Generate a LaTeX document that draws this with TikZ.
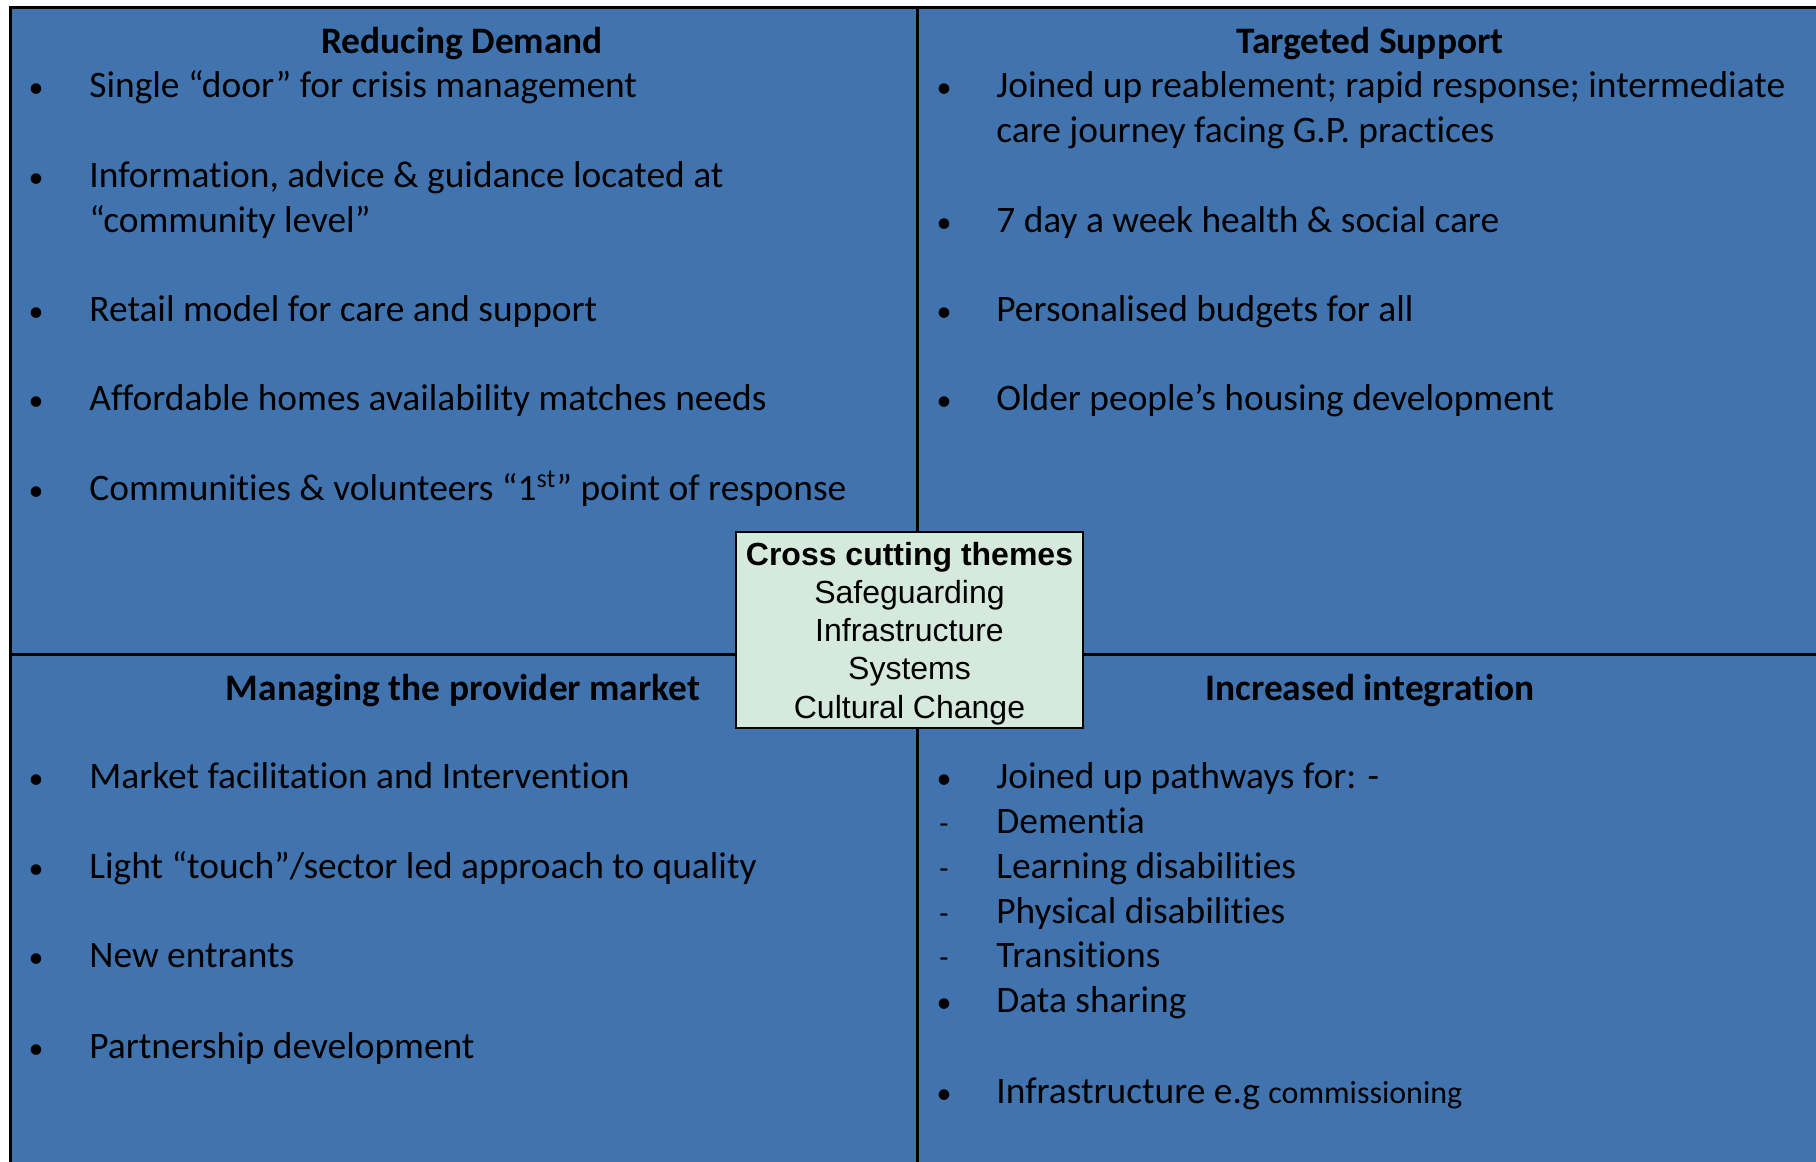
\documentclass[tikz,border=0pt]{standalone}
\usepackage{fontspec}
\setmainfont{Carlito}[Ligatures=NoCommon]
\newfontfamily\arialfont{Liberation Sans}
\definecolor{quadblue}{RGB}{65,116,175}
\definecolor{themegreen}{RGB}{214,233,221}
\tikzset{heading/.style={font=\bfseries\fontsize{18.7}{22}\selectfont, anchor=base, inner sep=0pt, yshift=-0.6pt}}
\tikzset{item/.style={font=\fontsize{18.7}{22}\selectfont, anchor=base west, inner sep=0pt, yshift=-0.6pt}}
\tikzset{bulletmark/.style={font=\fontsize{15}{18}\selectfont, anchor=base, inner sep=0pt, yshift=-0.6pt}}
\tikzset{themes/.style={draw, fill=themegreen, line width=0.6pt, minimum width=173.5pt, minimum height=98pt, inner sep=0pt}}
\tikzset{themetext/.style={align=center, inner sep=0pt, font=\arialfont\fontsize{16}{19.1}\selectfont}}
\tikzset{divider/.style={line width=1.5pt}}

\begin{document}
\begin{tikzpicture}[x=0.5pt, y=-0.5pt]
            \useasboundingbox (0,0) rectangle (1816,1162);
            \clip (0,0) rectangle (1816,1162);
            \fill[quadblue] (10,7) rectangle (1830,1180);
            \draw[divider] (10,1180) -- (10,7) -- (1830,7);
            \draw[divider] (917,7) -- (917,1180);
            \draw[divider] (10,654) -- (1830,654);
            % headings
            \node[heading] (demand) at (462,52) {Reducing Demand};
            \node[heading] (support) at (1370,52) {Targeted Support};
            \node[heading] (market) at (463,699) {Managing the provider market};
            \node[heading] (integration) at (1370,699) {Increased integration};
            % reducing demand
            \foreach \y/\m/\txt [count=\i] in {96.5/\textbullet/{Single “door” for crisis management},
                186/\textbullet/{Information, advice \& guidance located at},
                231//{“community level”},
                320/\textbullet/{Retail model for care and support},
                409/\textbullet/{Affordable homes availability matches needs},
                499/\textbullet/{Communities \& volunteers “1\textsuperscript{st}” point of response}} {
                \node[bulletmark] at (36,\y) {\m};
                \node[item] (demand-\i) at (89,\y) {\txt};
            }
            % targeted support
            \foreach \y/\m/\txt [count=\i] in {96.5/\textbullet/{Joined up reablement; rapid response; intermediate},
                141.7//{care journey facing G.P. practices},
                231/\textbullet/{7 day a week health \& social care},
                320/\textbullet/{Personalised budgets for all},
                409/\textbullet/{Older people’s housing development}} {
                \node[bulletmark] at (944,\y) {\m};
                \node[item] (support-\i) at (996,\y) {\txt};
            }
            % provider market
            \foreach \y/\m/\txt [count=\i] in {787/\textbullet/{Market facilitation and Intervention},
                877/\textbullet/{Light “touch”/sector led approach to quality},
                966/\textbullet/{New entrants},
                1057/\textbullet/{Partnership development}} {
                \node[bulletmark] at (36,\y) {\m};
                \node[item] (market-\i) at (89,\y) {\txt};
            }
            % integration
            \foreach \y/\m/\txt [count=\i] in {787/\textbullet/{Joined up pathways for: -},
                832/-/{Dementia},
                877/-/{Learning disabilities},
                922/-/{Physical disabilities},
                966/-/{Transitions},
                1011/\textbullet/{Data sharing},
                1102/\textbullet/{Infrastructure e.g {\fontsize{16}{18}\selectfont commissioning}}} {
                \node[bulletmark] at (944,\y) {\m};
                \node[item] (integration-\i) at (996,\y) {\txt};
            }
            % cross cutting
            \node[themes] (crosscut) at (909.5,630) {};
            \node[themetext] (crosscut-text) at ([yshift=-1.75pt]crosscut.center) {\textbf{Cross cutting themes}\\Safeguarding\\Infrastructure\\Systems\\Cultural Change};
        \end{tikzpicture}
\end{document}
